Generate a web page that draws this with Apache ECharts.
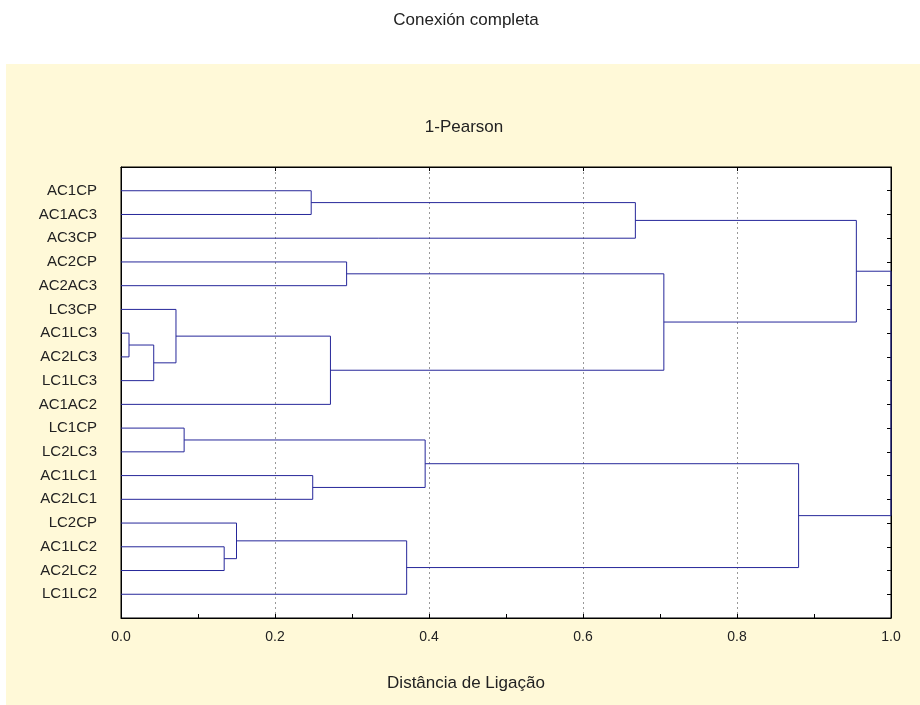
<!DOCTYPE html>
<html>
<head>
<meta charset="utf-8">
<script src="https://cdn.jsdelivr.net/npm/echarts@6/dist/echarts.min.js"></script>
<style>
  html, body { margin: 0; padding: 0; background: #fff; }
  #chart { width: 920px; height: 705px; }
</style>
</head>
<body>
<div id="chart"></div>
<script>
// leaves, top to bottom
var leaves = ['AC1CP', 'AC1AC3', 'AC3CP', 'AC2CP', 'AC2AC3', 'LC3CP', 'AC1LC3', 'AC2LC3', 'LC1LC3',
  'AC1AC2', 'LC1CP', 'LC2LC3', 'AC1LC1', 'AC2LC1', 'LC2CP', 'AC1LC2', 'AC2LC2', 'LC1LC2'];

// joins: index < 18 is a leaf, index >= 18 is the join made earlier (18 + k)
var joinLeft  = [0, 18, 3, 6, 21, 5, 23, 20, 19, 10, 12, 27, 15, 14, 31, 29, 26];
var joinRight = [1, 2, 4, 7, 8, 22, 9, 24, 25, 11, 13, 28, 16, 30, 17, 32, 33];
var joinDist  = [0.247, 0.668, 0.293, 0.0104, 0.0425, 0.0714, 0.272, 0.705, 0.955,
  0.082, 0.249, 0.395, 0.134, 0.150, 0.371, 0.880, 1.0];

var n = leaves.length;
var nodes = [];
function pos(i) {
  return i < n ? [0, i + 1] : nodes[i - n];
}
var links = [];
for (var k = 0; k < joinDist.length; k++) {
  var a = pos(joinLeft[k]), b = pos(joinRight[k]), h = joinDist[k];
  links.push({ coords: [[a[0], a[1]], [h, a[1]], [h, b[1]], [b[0], b[1]]] });
  nodes.push([h, (a[1] + b[1]) / 2]);
}

var chart = echarts.init(document.getElementById('chart'));
var font = '"Liberation Sans", Arial, sans-serif';

chart.setOption({
  animation: false,
  backgroundColor: '#fff',
  graphic: [
    { type: 'rect', left: 6, top: 64, shape: { width: 914, height: 641 }, style: { fill: '#fff9d8' }, z: -10 },
    { type: 'text', x: 466, y: 20, style: { text: 'Conexión completa', font: '17px ' + font, fill: '#222', textAlign: 'center', textVerticalAlign: 'middle' } },
    { type: 'text', x: 464, y: 127, style: { text: '1-Pearson', font: '17px ' + font, fill: '#222', textAlign: 'center', textVerticalAlign: 'middle' } },
    { type: 'text', x: 466, y: 683, style: { text: 'Distância de Ligação', font: '17px ' + font, fill: '#222', textAlign: 'center', textVerticalAlign: 'middle' } }
  ],
  grid: {
    left: 121, top: 167, width: 770, height: 451,
    show: true, backgroundColor: '#fff', borderColor: '#000', borderWidth: 1
  },
  xAxis: [{
    type: 'value', min: 0, max: 1, interval: 0.1, position: 'bottom',
    axisLine: { show: true, onZero: false, lineStyle: { color: '#000' } },
    axisTick: { show: true, inside: true, length: 4, lineStyle: { color: '#000' } },
    axisLabel: {
      margin: 12, color: '#222', fontSize: 14, fontFamily: font,
      formatter: function (v) { return Math.round(v * 10) % 2 === 0 ? v.toFixed(1) : ''; }
    },
    splitLine: { show: false }
  }, {
    type: 'value', min: 0, max: 1, interval: 0.2, position: 'top',
    axisLine: { show: true, onZero: false, lineStyle: { color: '#000' } },
    axisTick: { show: true, inside: true, length: 4, lineStyle: { color: '#000' } },
    axisLabel: { show: false },
    splitLine: { show: true, lineStyle: { color: '#999', type: [2, 3], width: 1 } }
  }],
  yAxis: [{
    type: 'value', min: 0, max: n + 1, interval: 1, inverse: true, position: 'left',
    axisLine: { show: true, onZero: false, lineStyle: { color: '#000' } },
    axisTick: { show: false },
    axisLabel: {
      margin: 24, color: '#222', fontSize: 15, fontFamily: font,
      formatter: function (v) { return leaves[v - 1] || ''; }
    },
    splitLine: { show: false }
  }, {
    type: 'value', min: 0, max: n + 1, interval: 1, inverse: true, position: 'right',
    axisLine: { show: true, onZero: false, lineStyle: { color: '#000' } },
    axisTick: { show: true, inside: true, length: 4, lineStyle: { color: '#000' } },
    axisLabel: { show: false },
    splitLine: { show: false }
  }],
  series: [{
    type: 'lines',
    coordinateSystem: 'cartesian2d',
    xAxisIndex: 0,
    yAxisIndex: 0,
    polyline: true,
    silent: true,
    lineStyle: { color: '#26279a', width: 1, opacity: 1 },
    data: links
  }]
});
</script>
</body>
</html>
